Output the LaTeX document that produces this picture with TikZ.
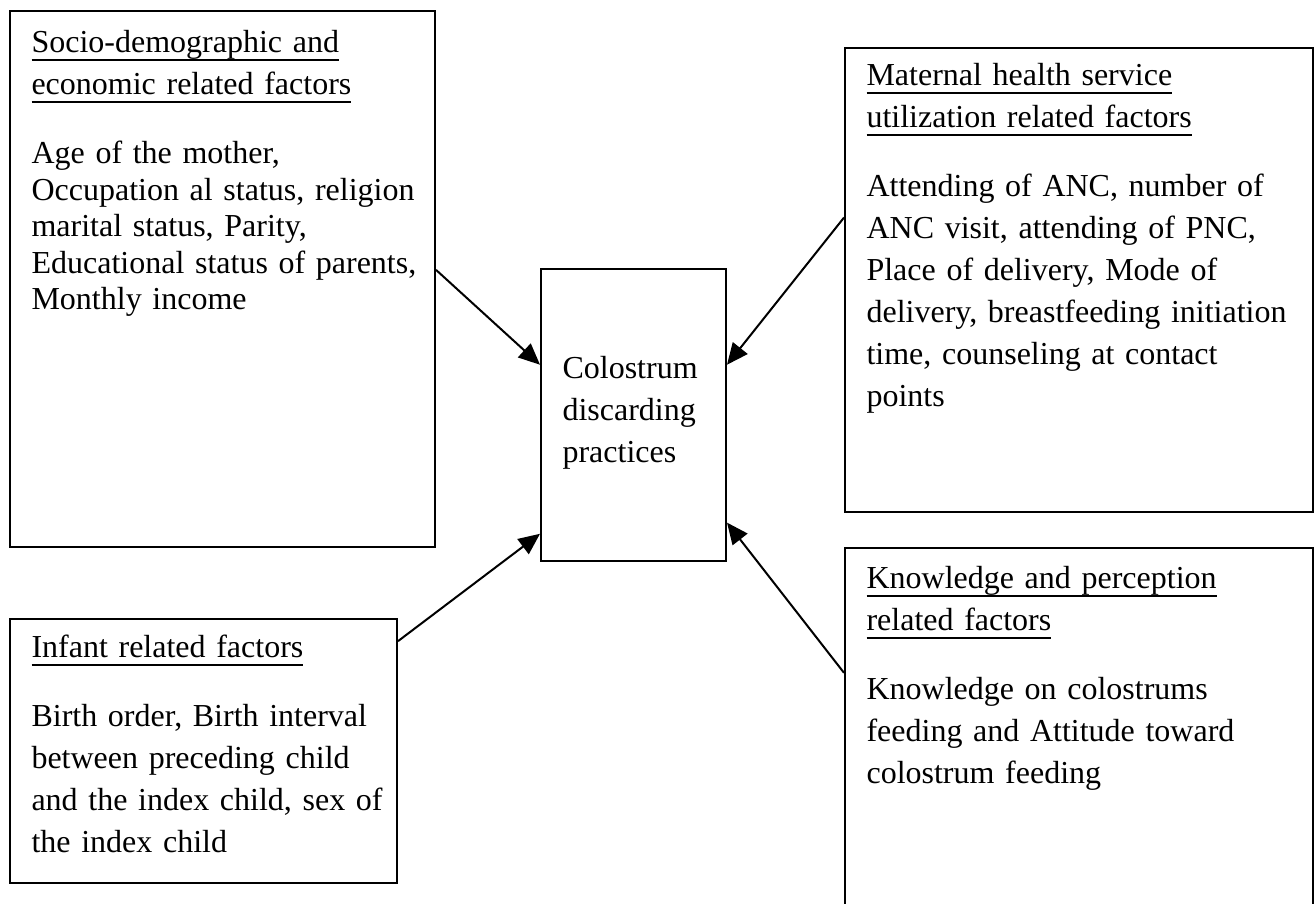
\documentclass[tikz,border=0pt]{standalone}
\usepackage{fontspec}
\setmainfont{Liberation Serif}
\usetikzlibrary{arrows.meta,calc,fit}
\newcommand{\ulhead}[1]{\leavevmode\setbox0=\hbox{#1}\rlap{\rule[-3pt]{\wd0}{0.6pt}}\box0}
\newcommand{\gs}{\rule{0pt}{9pt}}

\begin{document}
\begin{tikzpicture}[x=0.375pt, y=-0.375pt,
  factor/.style={draw, line width=0.75pt, inner sep=0pt},
  txt/.style={anchor=north west, inner sep=0pt, align=left, font=\fontsize{12}{15.75}\selectfont},
  arr/.style={-{Triangle[length=8pt,width=7pt]}, line width=0.75pt}]
  \useasboundingbox (0,0) rectangle (1315,903);
  \clip (0,0) rectangle (1315,903);
  \node[factor, fit={(10,11) (435,547)}] (socio) {};
  \node[factor, fit={(845,48) (1313,512)}] (maternal) {};
  \node[factor, fit={(541,269) (726,561)}] (colos) {};
  \node[factor, fit={(10,619) (397,883)}] (infant) {};
  \node[factor, fit={(845,548) (1313,915)}] (knowl) {};
  \node[txt, text width=150pt] (socio text) at (31,28) {\gs\ulhead{Socio-demographic and}\\\ulhead{economic related factors}\par\vspace{12.2pt}{\fontsize{12}{13.7}\selectfont Age of the mother,\\Occupation al status, religion\\marital status, Parity,\\Educational status of parents,\\Monthly income\par}};
  \node[txt, text width=165pt] (maternal text) at (866,61) {\gs\ulhead{Maternal health service}\\\ulhead{utilization related factors}\par\vspace{10.1pt}Attending of ANC, number of\\ANC visit, attending of PNC,\\Place of delivery, Mode of\\delivery, breastfeeding initiation\\time, counseling at contact\\points\par};
  \node[txt, text width=60pt] (colos text) at (562,354) {\gs Colostrum\\discarding\\practices};
  \node[txt, text width=135pt] (infant text) at (31,633) {\gs\ulhead{Infant related factors}\par\vspace{10.1pt}Birth order, Birth interval\\between preceding child\\and the index child, sex of\\the index child\par};
  \node[txt, text width=165pt] (knowl text) at (866,564) {\gs\ulhead{Knowledge and perception}\\\ulhead{related factors}\par\vspace{10.1pt}Knowledge on colostrums\\feeding and Attitude toward\\colostrum feeding\par};
  \draw[arr] ($(socio.north east)!0.483!(socio.south east)$) -- ($(colos.north west)!0.329!(colos.south west)$);
  \draw[arr] ($(maternal.north west)!0.366!(maternal.south west)$) -- ($(colos.north east)!0.329!(colos.south east)$);
  \draw[arr] ($(infant.north east)!0.087!(infant.south east)$) -- ($(colos.north west)!0.904!(colos.south west)$);
  \draw[arr] ($(knowl.north west)!0.341!(knowl.south west)$) -- ($(colos.north east)!0.866!(colos.south east)$);
\end{tikzpicture}
\end{document}
